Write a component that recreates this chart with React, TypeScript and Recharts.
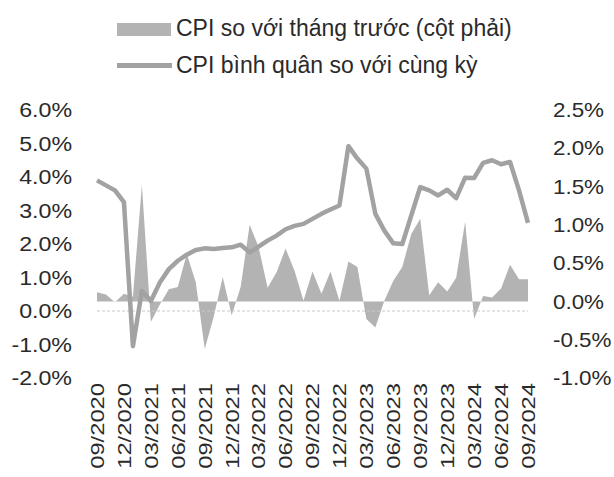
import { ComposedChart, Area, Line, XAxis, YAxis, ReferenceLine } from "recharts"

// tháng, 09/2020 - 09/2024
const months = [
  "09/2020", "10/2020", "11/2020", "12/2020",
  "01/2021", "02/2021", "03/2021", "04/2021", "05/2021", "06/2021",
  "07/2021", "08/2021", "09/2021", "10/2021", "11/2021", "12/2021",
  "01/2022", "02/2022", "03/2022", "04/2022", "05/2022", "06/2022",
  "07/2022", "08/2022", "09/2022", "10/2022", "11/2022", "12/2022",
  "01/2023", "02/2023", "03/2023", "04/2023", "05/2023", "06/2023",
  "07/2023", "08/2023", "09/2023", "10/2023", "11/2023", "12/2023",
  "01/2024", "02/2024", "03/2024", "04/2024", "05/2024", "06/2024",
  "07/2024", "08/2024", "09/2024",
]

// CPI so với tháng trước (%), cột phải
const cpiMoM = [
  0.12, 0.09, -0.01, 0.1,
  0.06, 1.52, -0.27, -0.04, 0.16, 0.19,
  0.62, 0.25, -0.62, -0.2, 0.32, -0.18,
  0.19, 1.0, 0.71, 0.18, 0.38, 0.69,
  0.4, 0.01, 0.39, 0.1, 0.39, 0.01,
  0.52, 0.45, -0.23, -0.34, 0.01, 0.27,
  0.45, 0.88, 1.08, 0.08, 0.25, 0.13,
  0.31, 1.04, -0.23, 0.07, 0.05, 0.17,
  0.48, 0.29, 0.29,
]

// CPI bình quân so với cùng kỳ (%), cột trái
const cpiAvg = [
  3.9, 3.75, 3.6, 3.25,
  -1.05, 0.6, 0.3, 0.85, 1.25, 1.5,
  1.68, 1.82, 1.87, 1.85, 1.88, 1.9,
  1.98, 1.75, 1.92, 2.1, 2.25, 2.44,
  2.54, 2.6, 2.75, 2.9, 3.03, 3.15,
  4.92, 4.55, 4.25, 2.9, 2.4, 2.02,
  2.0, 2.85, 3.7, 3.6, 3.45, 3.62,
  3.37, 3.98, 3.97, 4.42, 4.5, 4.38,
  4.45, 3.6, 2.63,
]

const leftTicks = [-2, -1, 0, 1, 2, 3, 4, 5, 6]
const rightTicks = [-1, -0.5, 0, 0.5, 1, 1.5, 2, 2.5]

const legendLabels = ["CPI so với tháng trước (cột phải)", "CPI bình quân so với cùng kỳ"]

const data = months.map((m, i) => ({ month: m, mom: cpiMoM[i], avg: cpiAvg[i] }))

const FONT = '"Liberation Sans", Arial, Helvetica, sans-serif'
const TEXT = "#2a2a2a"
const AREA_FILL = "#b3b3b3"
const LINE_COLOR = "#a2a2a2"

function LeftTick({ x, y, payload }: any) {
  return (
    <g transform={`translate(${x},${y})`}>
      <text transform="scale(1.16,1)" textAnchor="end" dy="0.36em" fontSize={20} fill={TEXT} fontFamily={FONT}>
        {`${Number(payload.value).toFixed(1)}%`}
      </text>
    </g>
  )
}

function RightTick({ x, y, payload }: any) {
  return (
    <g transform={`translate(${x},${y})`}>
      <text transform="scale(1.12,1)" textAnchor="start" dy="0.36em" fontSize={20} fill={TEXT} fontFamily={FONT}>
        {`${Number(payload.value).toFixed(1)}%`}
      </text>
    </g>
  )
}

function MonthTick({ x, y, payload }: any) {
  return (
    <g transform={`translate(${x},${y})`}>
      <text transform="rotate(-90) scale(1.25,1)" textAnchor="end" dy="0.36em" fontSize={19} fill={TEXT} fontFamily={FONT}>
        {payload.value}
      </text>
    </g>
  )
}

export default function App() {
  return (
    <div style={{ position: "absolute", left: 0, top: 0, width: 614, height: 477, background: "#fff", overflow: "hidden" }}>
      <div style={{ position: "absolute", left: 0, top: 0, fontFamily: FONT, fontSize: 23, color: TEXT, lineHeight: "26px" }}>
        <div style={{ position: "absolute", left: 117, top: 23, width: 54, height: 13, background: AREA_FILL }} />
        <div style={{ position: "absolute", left: 176, top: 15, whiteSpace: "nowrap" }}>{legendLabels[0]}</div>
        <div style={{ position: "absolute", left: 117, top: 63, width: 55, height: 5, background: LINE_COLOR }} />
        <div style={{ position: "absolute", left: 176, top: 52, whiteSpace: "nowrap" }}>{legendLabels[1]}</div>
      </div>
      <div style={{ position: "absolute", left: 0, top: 0 }}>
        <ComposedChart width={614} height={477} data={data} margin={{ top: 110, right: 0, bottom: 0, left: 0 }}>
          <XAxis
            dataKey="month"
            interval={2}
            axisLine={false}
            tickLine={false}
            tickSize={0}
            tickMargin={5}
            height={99}
            tick={MonthTick}
          />
          <YAxis
            yAxisId="left"
            orientation="left"
            domain={[-2, 6]}
            ticks={leftTicks}
            width={97}
            axisLine={false}
            tickLine={false}
            tickSize={0}
            tickMargin={25}
            tick={LeftTick}
          />
          <YAxis
            yAxisId="right"
            orientation="right"
            domain={[-1, 2.5]}
            ticks={rightTicks}
            width={86}
            axisLine={false}
            tickLine={false}
            tickSize={0}
            tickMargin={25}
            tick={RightTick}
          />
          <ReferenceLine yAxisId="left" y={0} stroke="#c9c9c9" strokeWidth={1} strokeDasharray="3 2" />
          <Area
            yAxisId="right"
            dataKey="mom"
            type="linear"
            baseValue={0}
            stroke="none"
            fill={AREA_FILL}
            fillOpacity={1}
            isAnimationActive={false}
          />
          <Line
            yAxisId="left"
            dataKey="avg"
            type="linear"
            stroke={LINE_COLOR}
            strokeWidth={4.5}
            strokeLinejoin="round"
            dot={false}
            isAnimationActive={false}
          />
        </ComposedChart>
      </div>
    </div>
  )
}
